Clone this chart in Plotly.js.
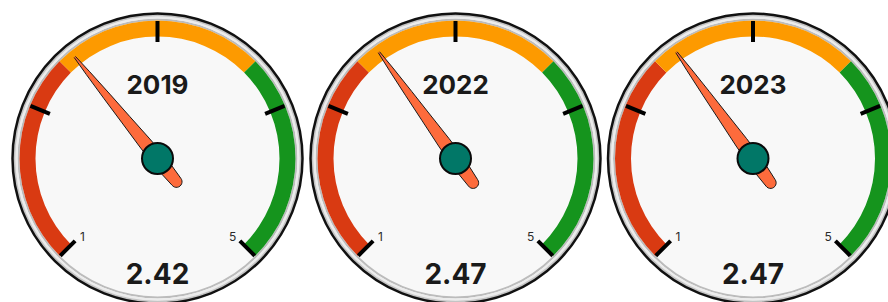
<!DOCTYPE html>
<html>
<head>
<meta charset="utf-8">
<script src="https://cdn.plot.ly/plotly-3.0.1.min.js"></script>
<style>
  html, body { margin: 0; padding: 0; background: #ffffff; overflow: hidden; width: 888px; height: 302px; }
  #chart { width: 910px; height: 310px; }
</style>
</head>
<body>
<div id="chart"></div>
<script>
// ---- data ----
const years = ['2019', '2022', '2023'];
const values = [2.42, 2.47, 2.47];
const bandLimits = [1, 2.33, 3.67, 5];
const bandColors = ['#d93a12', '#fd9a00', '#15941d'];
const tickVals = [1, 2, 3, 4, 5];
const tickLabels = ['1', '', '', '', '5'];

// ---- layout geometry (pixels) ----
const W = 910, H = 310;
const R = 145;                 // polar radius in px, radial units == px
const centersX = [157.5, 455.5, 753];
const centerY = 158.5;
const FONT = 'Inter, Roboto, sans-serif';

// value -> polar theta (degrees, clockwise from value 1)
const SPAN = 270, VMIN = 1, VMAX = 5;
const th = v => (v - VMIN) / (VMAX - VMIN) * SPAN;

function needle(v) {
  const prof = [[131, 0.8], [110, 2.2], [80, 3.7], [50, 5.0], [20, 6.4], [0, 6.9], [-15, 6.5], [-30, 5.6]];
  const pts = [];
  prof.forEach(p => pts.push([p[0], p[1]]));
  const cs = -30, cr = 5.6;
  for (let a = 90; a <= 270; a += 15) {
    const rad = a * Math.PI / 180;
    pts.push([cs + cr * Math.cos(rad), cr * Math.sin(rad)]);
  }
  for (let i = prof.length - 1; i >= 0; i--) pts.push([prof[i][0], -prof[i][1]]);
  const r = [], t = [];
  pts.forEach(p => {
    r.push(Math.hypot(p[0], p[1]));
    t.push(th(v) + Math.atan2(p[1], p[0]) * 180 / Math.PI);
  });
  return { r, t };
}

const data = [];
const layout = {
  width: W, height: H, autosize: false,
  margin: { l: 0, r: 0, t: 0, b: 0, pad: 0 },
  paper_bgcolor: '#ffffff',
  showlegend: false,
  font: { family: FONT, color: '#1a1a1a' }
};

years.forEach((yr, i) => {
  const key = i === 0 ? 'polar' : 'polar' + (i + 1);
  const sp = key;
  const cx = centersX[i];
  layout[key] = {
    domain: {
      x: [(cx - R) / W, (cx + R) / W],
      y: [1 - (centerY + R) / H, 1 - (centerY - R) / H]
    },
    bgcolor: '#f8f8f8',
    radialaxis: { visible: false, range: [0, R], showgrid: false },
    angularaxis: {
      visible: true, showline: true, linecolor: '#111111', linewidth: 2.5,
      showgrid: false, ticks: '', showticklabels: false,
      rotation: 225, direction: 'clockwise'
    }
  };

  // silver rim
  const rims = [[138, 2, '#bcbcbc'], [140, 2.2, '#ececec'], [142.2, 2.3, '#c4c4c4']];
  rims.forEach(rm => data.push({
    type: 'barpolar', subplot: sp, base: [rm[0]], r: [rm[1]], theta: [180], width: [360],
    marker: { color: rm[2], line: { width: 0 } }, hoverinfo: 'skip'
  }));

  // colour bands
  for (let b = 0; b < bandColors.length; b++) {
    const a = bandLimits[b], c = bandLimits[b + 1];
    data.push({
      type: 'barpolar', subplot: sp, base: [122], r: [16],
      theta: [th((a + c) / 2)], width: [th(c) - th(a)],
      marker: { color: bandColors[b], line: { width: 0 } }, hoverinfo: 'skip'
    });
  }

  // major ticks
  const tr = [], tt = [];
  tickVals.forEach(v => { tr.push(116.5, 137.5, null); tt.push(th(v), th(v), null); });
  data.push({
    type: 'scatterpolar', subplot: sp, mode: 'lines', r: tr, theta: tt,
    line: { color: '#000000', width: 4 }, hoverinfo: 'skip'
  });

  // tick labels
  data.push({
    type: 'scatterpolar', subplot: sp, mode: 'text',
    r: tickVals.map(() => 109), theta: tickVals.map(v => th(v) + (v === VMIN ? -1.5 : 1.5)),
    text: tickLabels, textposition: 'middle center',
    textfont: { family: FONT, size: 12, color: '#2a2a2a' }, hoverinfo: 'skip'
  });

  // year label & value
  data.push({
    type: 'scatterpolar', subplot: sp, mode: 'text',
    r: [71.5], theta: [th(3)], text: [yr], textposition: 'middle center',
    textfont: { family: FONT, size: 26, weight: 700, color: '#1a1a1a' }, hoverinfo: 'skip'
  });
  data.push({
    type: 'scatterpolar', subplot: sp, mode: 'text',
    r: [118.5], theta: [th(3) + 180], text: [values[i].toFixed(2)], textposition: 'middle center',
    textfont: { family: FONT, size: 28, weight: 700, color: '#1a1a1a' }, hoverinfo: 'skip'
  });

  // needle
  const n = needle(values[i]);
  data.push({
    type: 'scatterpolar', subplot: sp, mode: 'lines', r: n.r, theta: n.t,
    fill: 'toself', fillcolor: '#fd6b3c', line: { color: '#1a1a1a', width: 1 }, hoverinfo: 'skip'
  });

  // hub
  data.push({
    type: 'scatterpolar', subplot: sp, mode: 'markers', r: [0], theta: [0],
    marker: { size: 31, color: '#017767', line: { color: '#0a0a0a', width: 2 } }, hoverinfo: 'skip'
  });
});

Plotly.newPlot('chart', data, layout, { staticPlot: true, displayModeBar: false });
</script>
</body>
</html>
